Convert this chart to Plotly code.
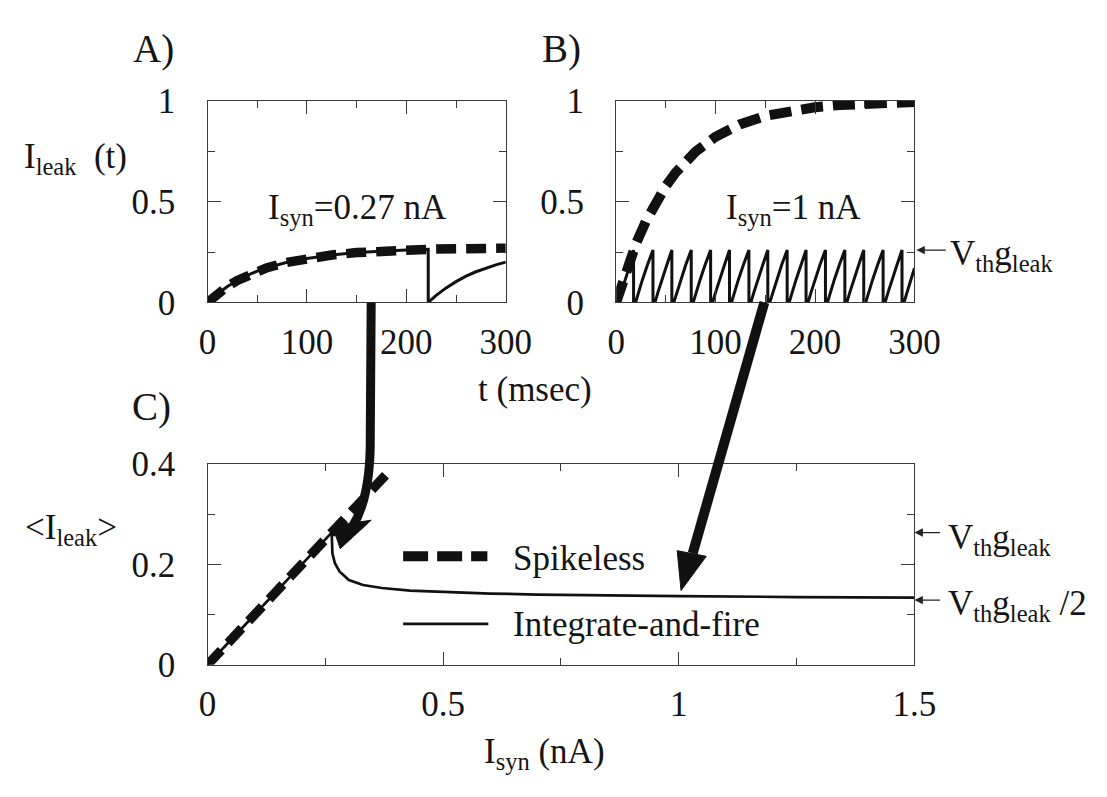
import plotly.graph_objects as go

# ---------------- data ----------------
# Panel A : I_syn = 0.27 nA
A_SPIKELESS_T = [0, 10, 20, 30, 40, 50, 60, 80, 100, 125, 150, 175, 200, 225, 250, 275, 300]
A_SPIKELESS_V = [0, 0.043, 0.079, 0.109, 0.134, 0.155, 0.172, 0.199, 0.218, 0.235, 0.247,
                 0.255, 0.260, 0.264, 0.266, 0.268, 0.269]
A_IF_T = [0, 10, 20, 30, 40, 50, 60, 80, 100, 125, 150, 175, 200, 222,
          222, 230, 240, 250, 260, 270, 280, 290, 300]
A_IF_V = [0, 0.043, 0.079, 0.109, 0.134, 0.155, 0.172, 0.199, 0.218, 0.235, 0.247, 0.255, 0.260, 0.263,
          0, 0.035, 0.072, 0.103, 0.130, 0.152, 0.171, 0.186, 0.200]

# Panel B : I_syn = 1 nA
B_SPIKELESS_T = [0, 5, 10, 15, 20, 30, 40, 50, 60, 70, 80, 100, 125, 150, 175, 200, 225, 250, 275, 300]
B_SPIKELESS_V = [0, 0.083, 0.158, 0.228, 0.292, 0.404, 0.498, 0.578, 0.645, 0.701, 0.748, 0.822,
                 0.884, 0.925, 0.951, 0.968, 0.979, 0.987, 0.991, 0.994]
B_SPIKE_TIMES = [17.5, 37, 56, 75.5, 95, 114, 133.5, 152.5, 172, 191, 210.5, 230, 249, 268.5, 287.5]
B_THRESHOLD = 0.26
B_TOOTH_OFFSETS = [2, 5, 9, 14]          # ms after each reset
B_TOOTH_VALUES = [0.0, 0.05, 0.114, 0.187]
B_END_T, B_END_V = 300, 0.17

# Panel C : mean leak current vs I_syn
C_SPIKELESS_X = [0, 0.1, 0.2, 0.3, 0.39]
C_SPIKELESS_Y = [0, 0.1, 0.2, 0.3, 0.39]
C_IF_X = [0, 0.1, 0.2, 0.2635, 0.265, 0.27, 0.28, 0.30, 0.33, 0.37, 0.43, 0.5, 0.6, 0.7, 0.85,
          1.0, 1.25, 1.5]
C_IF_Y = [0, 0.1, 0.2, 0.2635, 0.222, 0.203, 0.186, 0.169, 0.159, 0.153, 0.148, 0.145, 0.142,
          0.140, 0.138, 0.137, 0.135, 0.134]

# tick labels
T_TICKS = [0, 100, 200, 300]
T_MINOR = [50, 150, 250]
I_TICKS = [0, 0.5, 1]
I_MINOR = [0.25, 0.75]
CX_TICKS = [0, 0.5, 1, 1.5]
CX_MINOR = [0.25, 0.75, 1.25]
CY_TICKS = [0, 0.2, 0.4]
CY_MINOR = [0.1, 0.3]

# ---------------- build the sawtooth from read spike times ----------------
saw_t, saw_v = [0], [0]
resets = [0] + B_SPIKE_TIMES
for i, r in enumerate(resets):
    nxt = resets[i + 1] if i + 1 < len(resets) else B_END_T
    if r > 0:
        saw_t += [r, r]
        saw_v += [B_THRESHOLD, 0]
    for off, val in zip(B_TOOTH_OFFSETS, B_TOOTH_VALUES):
        if r + off < nxt:
            saw_t.append(r + off)
            saw_v.append(val)
saw_t.append(B_END_T)
saw_v.append(B_END_V)

# ---------------- figure ----------------
W, H = 1107, 797
FONT = "Liberation Serif, Times New Roman, Times, DejaVu Serif, serif"
TXT = "#151515"
AX = "#3a3a3a"
FS = 35


def px(x):
    return x / W


def py(y):
    return 1 - y / H


fig = go.Figure()
DASH = "20px,10px"
fig.add_trace(go.Scatter(x=A_SPIKELESS_T, y=A_SPIKELESS_V, mode="lines", xaxis="x", yaxis="y",
                         line=dict(color="#111", width=9.5, dash=DASH), showlegend=False))
fig.add_trace(go.Scatter(x=A_IF_T, y=A_IF_V, mode="lines", xaxis="x", yaxis="y",
                         line=dict(color="#111", width=3), showlegend=False))
fig.add_trace(go.Scatter(x=B_SPIKELESS_T, y=B_SPIKELESS_V, mode="lines", xaxis="x2", yaxis="y2",
                         line=dict(color="#111", width=10, dash="22px,10px"), showlegend=False))
fig.add_trace(go.Scatter(x=saw_t, y=saw_v, mode="lines", xaxis="x2", yaxis="y2",
                         line=dict(color="#111", width=3), showlegend=False))
fig.add_trace(go.Scatter(x=C_SPIKELESS_X, y=C_SPIKELESS_Y, mode="lines", xaxis="x3", yaxis="y3",
                         line=dict(color="#111", width=9.5, dash=DASH), showlegend=False))
fig.add_trace(go.Scatter(x=C_IF_X, y=C_IF_Y, mode="lines", xaxis="x3", yaxis="y3",
                         line=dict(color="#111", width=2.7), showlegend=False))


def axis(domain, rng, ticks, minor, anchor, standoff):
    return dict(domain=domain, range=rng, anchor=anchor, tickmode="array", tickvals=ticks,
                ticktext=[f"{v:g}" for v in ticks],
                showline=True, mirror="allticks", linecolor=AX, linewidth=1.3,
                ticks="inside", ticklen=13, tickwidth=1.3, tickcolor=AX,
                showgrid=False, zeroline=False, ticklabelstandoff=standoff,
                tickfont=dict(family=FONT, size=FS, color=TXT),
                minor=dict(tickmode="array", tickvals=minor, ticks="inside", ticklen=7,
                           tickwidth=1.3, tickcolor=AX, showgrid=False))


A_X = [px(205), px(513)]
B_X = [px(627), px(935)]
AB_Y = [py(298), py(86)]
C_X = [px(205), px(935)]
C_Y = [py(679), py(468)]

fig.update_layout(
    width=W, height=H, margin=dict(l=0, r=0, t=0, b=0),
    paper_bgcolor="white", plot_bgcolor="white", showlegend=False,
    font=dict(family=FONT, color=TXT),
    xaxis=axis(A_X, [0, 300], T_TICKS, T_MINOR, "y", 8),
    yaxis=axis(AB_Y, [0, 1], I_TICKS, I_MINOR, "x", 24),
    xaxis2=axis(B_X, [0, 300], T_TICKS, T_MINOR, "y2", 8),
    yaxis2=axis(AB_Y, [0, 1], I_TICKS, I_MINOR, "x2", 24),
    xaxis3=axis(C_X, [0, 1.5], CX_TICKS, CX_MINOR, "y3", 8),
    yaxis3=axis(C_Y, [0, 0.4], CY_TICKS, CY_MINOR, "x3", 24),
)


def text(x, y, s, size=FS, xanchor="center"):
    fig.add_annotation(x=px(x), y=py(y), xref="paper", yref="paper", text=s, showarrow=False,
                       xanchor=xanchor, yanchor="middle",
                       font=dict(family=FONT, size=size, color=TXT))


text(149, 32, "A)", 39)
text(571, 32, "B)", 39)
text(147, 408, "C)", 39)
text(13, 147, "I<sub>leak</sub>&nbsp; (t)", FS, "left")
text(543, 390, "t (msec)", FS)
text(360, 200, "I<sub>syn</sub>=0.27 nA", FS)
text(810, 200, "I<sub>syn</sub>=1 nA", FS)
text(14, 537, "&lt;I<sub>leak</sub>&gt;", FS, "left")
text(553, 772, "I<sub>syn</sub> (nA)", FS)
text(518, 567, "Spikeless", FS, "left")
text(518, 637, "Integrate-and-fire", FS, "left")
text(970, 249, "V<sub>th</sub>g<sub>leak</sub>", FS, "left")
text(968, 547, "V<sub>th</sub>g<sub>leak</sub>", FS, "left")
text(968, 617, "V<sub>th</sub>g<sub>leak</sub> /2", FS, "left")


def thin_arrow(tip_x, tip_y, tail_x):
    fig.add_annotation(x=px(tip_x), y=py(tip_y), xref="paper", yref="paper", text="",
                       showarrow=True, ax=tail_x - tip_x, ay=0, axref="pixel", ayref="pixel",
                       arrowhead=2, arrowsize=1.3, arrowwidth=1.3, arrowcolor="#222", standoff=0)


thin_arrow(937, 243, 968)
thin_arrow(935, 540, 962)
thin_arrow(935, 611, 962)

# legend samples
fig.add_shape(type="line", xref="paper", yref="paper", x0=px(407), x1=px(494), y0=py(565), y1=py(565),
              line=dict(color="#111", width=10, dash="25px,9px"))
fig.add_shape(type="line", xref="paper", yref="paper", x0=px(407), x1=px(495), y0=py(636), y1=py(636),
              line=dict(color="#111", width=2.7))


def path(points, cmd):
    return cmd.format(*[f"{px(x):.5f} {py(y):.5f}" for x, y in points])


# curved arrow A -> C
fig.add_shape(type="path", xref="paper", yref="paper",
              path=path([(374, 298), (373, 450), (372, 505), (355, 533)], "M {0} L {1} Q {2} {3}"),
              line=dict(color="#111", width=9))
fig.add_shape(type="path", xref="paper", yref="paper",
              path=path([(334, 533), (374, 527), (342, 557)], "M {0} L {1} L {2} Z"),
              fillcolor="#111", line=dict(color="#111", width=1))
# straight arrow B -> C
fig.add_shape(type="path", xref="paper", yref="paper",
              path=path([(780, 298), (706, 562)], "M {0} L {1}"),
              line=dict(color="#111", width=10))
fig.add_shape(type="path", xref="paper", yref="paper",
              path=path([(690, 559), (720, 565), (694, 601)], "M {0} L {1} L {2} Z"),
              fillcolor="#111", line=dict(color="#111", width=1))

fig.write_html("out.html")
